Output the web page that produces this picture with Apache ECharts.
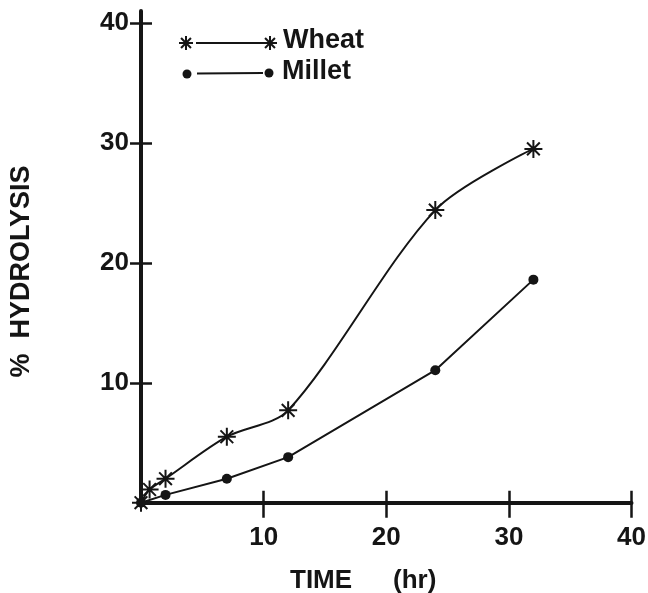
<!DOCTYPE html>
<html><head><meta charset="utf-8">
<script src="https://cdn.jsdelivr.net/npm/echarts@6/dist/echarts.min.js"></script>
<style>html,body{margin:0;padding:0;background:#fff}#c{width:648px;height:593px}</style>
</head><body><div id="c"></div>
<script>
// ---- data ----
const wheatTime = [0, 0.7, 2, 7, 12, 24, 32];
const wheatHydrolysis = [0, 1.1, 2.0, 5.5, 7.7, 24.4, 29.5];
const milletTime = [0, 2, 7, 12, 24, 32];
const milletHydrolysis = [0, 0.65, 2.0, 3.8, 11.05, 18.6];
const xTickValues = [10, 20, 30, 40];
const yTickValues = [10, 20, 30, 40];
const seriesNames = ['Wheat', 'Millet'];
const xTitle = 'TIME';
const xUnit = '(hr)';
const yTitle = '%  HYDROLYSIS';

const INK = '#151515';
const FONT = '"Liberation Sans", Arial, Helvetica, sans-serif';
const STAR = 'path://M10,0L10,20M0,10L20,10M2.93,2.93L17.07,17.07M2.93,17.07L17.07,2.93';

function starGraphic(cx, cy, r) {
  const d = r * 0.7071;
  const segs = [[0, -r, 0, r], [-r, 0, r, 0], [-d, -d, d, d], [-d, d, d, -d]];
  return {
    type: 'group', x: cx, y: cy,
    children: segs.map(s => ({type: 'line', shape: {x1: s[0], y1: s[1], x2: s[2], y2: s[3]},
      style: {stroke: INK, lineWidth: 2}}))
  };
}

const chart = echarts.init(document.getElementById('c'), null, {renderer: 'canvas'});

const baseX = {
  type: 'value', min: 0, max: 40, position: 'bottom',
  splitLine: {show: false}
};
const baseY = {
  type: 'value', min: 0, max: 41, position: 'left',
  splitLine: {show: false}
};

chart.setOption({
  animation: false,
  backgroundColor: '#fff',
  grid: {left: 141, right: 16.5, top: 11, bottom: 90.3, outerBoundsMode: 'none', containLabel: false},
  xAxis: [
    Object.assign({}, baseX, {
      axisLine: {show: true, lineStyle: {color: INK, width: 4}},
      axisTick: {show: true, inside: false, length: 15, customValues: xTickValues, lineStyle: {color: INK, width: 2.5}},
      axisLabel: {show: true, customValues: xTickValues, margin: 22, color: INK,
        fontFamily: FONT, fontSize: 26, fontWeight: 'bold'}
    }),
    Object.assign({}, baseX, {
      axisLine: {show: false},
      axisTick: {show: true, inside: true, length: 12, customValues: xTickValues, lineStyle: {color: INK, width: 2.5}},
      axisLabel: {show: false}
    })
  ],
  yAxis: [
    Object.assign({}, baseY, {
      axisLine: {show: true, lineStyle: {color: INK, width: 4}},
      axisTick: {show: true, inside: false, length: 11, customValues: yTickValues, lineStyle: {color: INK, width: 2.5}},
      axisLabel: {show: true, customValues: yTickValues, margin: 12, color: INK,
        fontFamily: FONT, fontSize: 26, fontWeight: 'bold'}
    }),
    Object.assign({}, baseY, {
      axisLine: {show: false},
      axisTick: {show: true, inside: true, length: 11, customValues: yTickValues, lineStyle: {color: INK, width: 2.5}},
      axisLabel: {show: false}
    })
  ],
  series: [
    {
      name: seriesNames[0], type: 'line', xAxisIndex: 0, yAxisIndex: 0,
      data: wheatTime.map((t, i) => [t, wheatHydrolysis[i]]),
      smooth: 0.3,
      symbol: STAR, symbolSize: 18, showSymbol: true,
      lineStyle: {color: INK, width: 2},
      itemStyle: {color: INK, borderColor: INK, borderWidth: 2}
    },
    {
      name: seriesNames[1], type: 'line', xAxisIndex: 0, yAxisIndex: 0,
      data: milletTime.map((t, i) => [t, milletHydrolysis[i]]),
      smooth: false,
      symbol: 'circle', symbolSize: 10, showSymbol: true,
      lineStyle: {color: INK, width: 2},
      itemStyle: {color: INK, borderWidth: 0}
    }
  ],
  graphic: [
    // legend
    starGraphic(186, 43, 7),
    {type: 'line', shape: {x1: 196, y1: 43, x2: 263, y2: 43}, style: {stroke: INK, lineWidth: 1.8}},
    starGraphic(270, 43, 7),
    {type: 'text', x: 283, y: 41, style: {text: seriesNames[0], fill: INK, font: 'bold 27px ' + FONT, align: 'left', verticalAlign: 'middle'}},
    {type: 'circle', shape: {cx: 187, cy: 74, r: 4.5}, style: {fill: INK}},
    {type: 'line', shape: {x1: 197, y1: 73.5, x2: 263, y2: 73}, style: {stroke: INK, lineWidth: 1.8}},
    {type: 'circle', shape: {cx: 269, cy: 73, r: 4.5}, style: {fill: INK}},
    {type: 'text', x: 282, y: 72, style: {text: seriesNames[1], fill: INK, font: 'bold 27px ' + FONT, align: 'left', verticalAlign: 'middle'}},
    // axis titles
    {type: 'text', x: 290, y: 581, style: {text: xTitle, fill: INK, font: 'bold 26px ' + FONT, align: 'left', verticalAlign: 'middle'}},
    {type: 'text', x: 393, y: 581, style: {text: xUnit, fill: INK, font: 'bold 26px ' + FONT, align: 'left', verticalAlign: 'middle'}},
    {type: 'text', x: 21.5, y: 271.5, rotation: Math.PI / 2, style: {text: yTitle, fill: INK, font: 'bold 27px ' + FONT, align: 'center', verticalAlign: 'middle'}}
  ]
});
</script>
</body></html>
